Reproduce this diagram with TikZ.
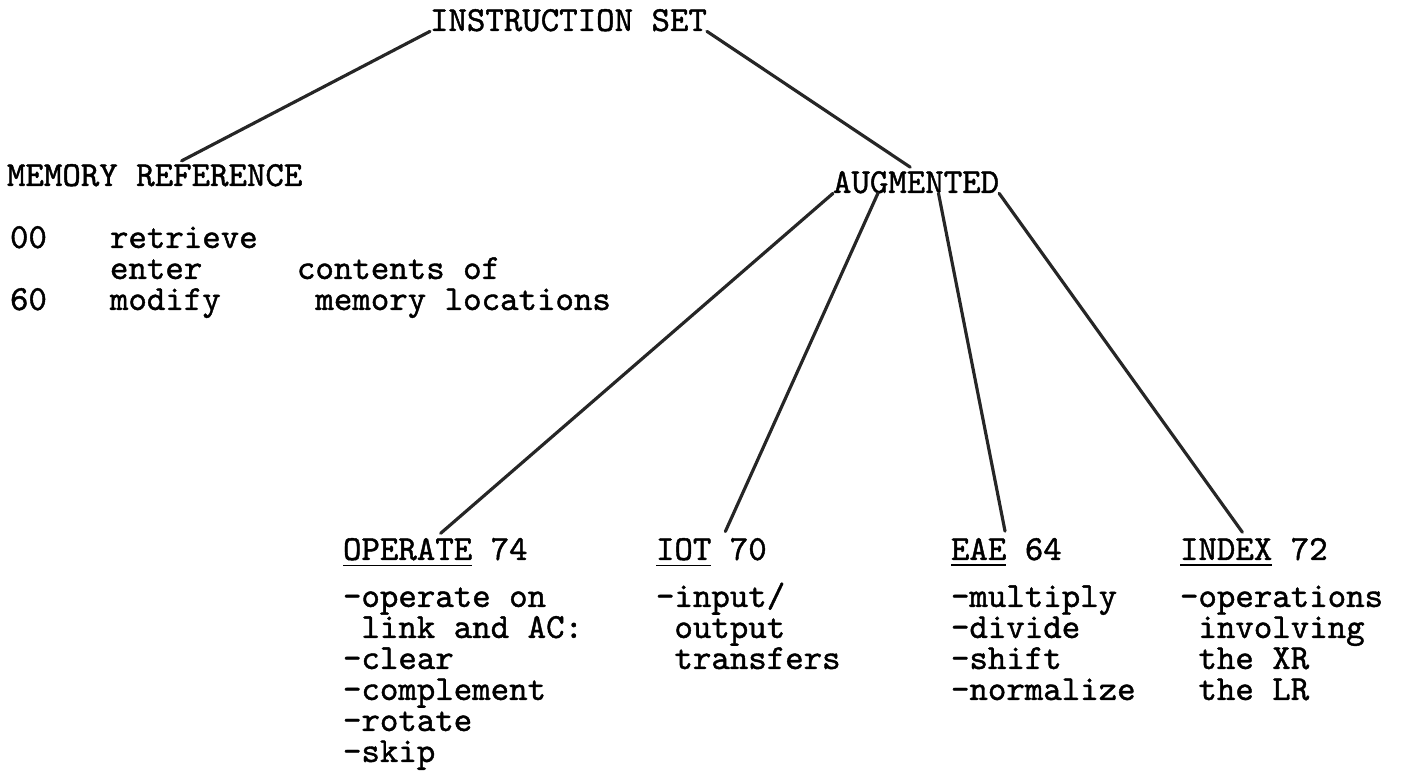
\documentclass[tikz,border=0pt]{standalone}
\usepackage{fontspec}
\newfontfamily\typewriter{lmmono10-regular}[Extension=.otf, FakeBold=1.2]
\usetikzlibrary{calc}

\begin{document}
\begin{tikzpicture}[
  x=0.01cm, y=-0.01cm,
  txt/.style={font=\typewriter\fontsize{10pt}{8.82pt}\selectfont, inner sep=0pt,
    outer sep=0pt, anchor=base west, align=left, text=black},
  branchline/.style={line width=0.9pt, draw=black!85, line cap=round, shorten >=2pt}
]
\useasboundingbox (0,0) rectangle (1411,774);

% top of the tree
\node[txt] (iset) at (430,31) {INSTRUCTION SET};
\node[txt] (memref) at (7,186) {MEMORY REFERENCE};
\node[txt] (aug) at (833,193) {AUGMENTED};

% memory reference group (multi-line nodes sit on their last baseline)
\node[txt] (c00) at (10,248) {00};
\node[txt] (c60) at (10,310) {60};
\node[txt] (mrops) at (110,310) {retrieve\\enter\\modify};
\node[txt] (mrwhat) at (297,310) {contents of\\\phantom{c}memory locations};

% augmented groups
\node[txt] (opH) at (343,560) {\underline{OPERATE} 74};
\node[txt] (iotH) at (656,560) {\underline{IOT} 70};
\node[txt] (eaeH) at (951,560) {\underline{EAE} 64};
\node[txt] (idxH) at (1180,560) {\underline{INDEX} 72};

\node[txt] (opL) at (343,762) {-operate on\\\phantom{-}link and AC:\\-clear\\-complement\\-rotate\\-skip};
\node[txt] (iotL) at (656,669) {-input/\\\phantom{-}output\\\phantom{-}transfers};
\node[txt] (eaeL) at (951,700) {-multiply\\-divide\\-shift\\-normalize};
\node[txt] (idxL) at (1180,700) {-operations\\\phantom{-}involving\\\phantom{-}the XR\\\phantom{-}the LR};

% branches
\draw[branchline] (iset.south west) -- ($(memref.north west)!0.57!(memref.north east)$);
\draw[branchline] (iset.south east) -- (aug.north);
\draw[branchline] (aug.south west) -- (opH.north);
\draw[branchline] ($(aug.south west)!0.27!(aug.south east)$) -- ($(iotH.north west)!0.6!(iotH.north east)$);
\draw[branchline] ($(aug.south west)!0.635!(aug.south east)$) -- (eaeH.north);
\draw[branchline] (aug.south east) -- ($(idxH.north west)!0.45!(idxH.north east)$);

\end{tikzpicture}
\end{document}
